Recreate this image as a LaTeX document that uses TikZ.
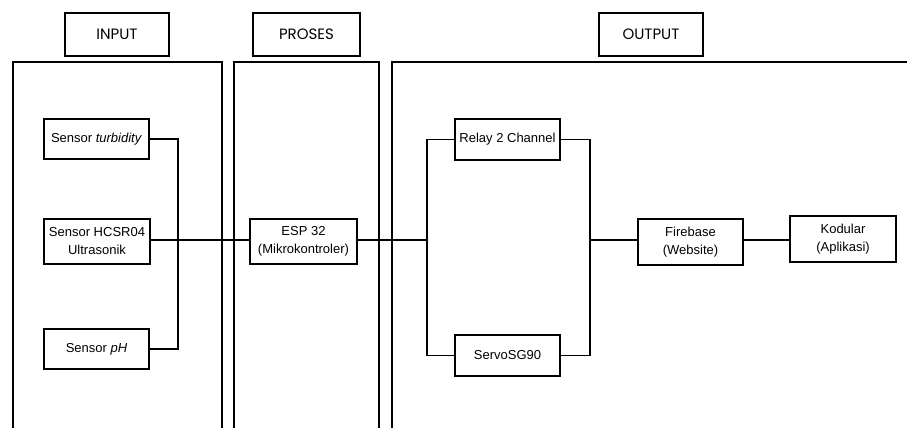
\documentclass[tikz,border=0pt]{standalone}
\usepackage{fontspec}
\setmainfont{Liberation Sans}
\newfontfamily\headfont{Poppins}
\begin{document}
\begin{tikzpicture}[x=1pt,y=-1pt,
  headbox/.style={draw,line width=2pt,minimum height=43pt,inner sep=0pt,font=\headfont\fontsize{15}{18}\selectfont},
  blk/.style={draw,line width=1.4pt,inner sep=0pt,align=center,font=\fontsize{13}{18}\selectfont},
  panel/.style={draw,line width=1.4pt},
  conn/.style={draw,line width=1.4pt}]
\useasboundingbox (0,0) rectangle (907,428);
\begin{scope}
\clip (0,0) rectangle (907,428);
\draw[panel] (13,62) rectangle (222,450);
\draw[panel] (234,62) rectangle (379,450);
\draw[panel] (392,62) rectangle (920,450);
\end{scope}
\node[headbox,minimum width=104pt] (hin) at (117,34.5) {INPUT};
\node[headbox,minimum width=107pt] (hpr) at (306.5,34.5) {PROSES};
\node[headbox,minimum width=104pt] (hout) at (651,34.5) {OUTPUT};

\node[blk,minimum width=105pt,minimum height=40pt] (turb) at (96.5,139) {Sensor \textit{turbidity}};
\node[blk,minimum width=106pt,minimum height=45pt] (hc) at (97,241.5) {Sensor HCSR04\\Ultrasonik};
\node[blk,minimum width=105pt,minimum height=40pt] (ph) at (96.5,349) {Sensor \textit{pH}};
\node[blk,minimum width=107pt,minimum height=45pt] (esp) at (303.5,241.5) {ESP 32\\(Mikrokontroler)};
\node[blk,minimum width=105pt,minimum height=41pt] (relay) at (507.5,139.5) {Relay 2 Channel};
\node[blk,minimum width=105pt,minimum height=41pt] (servo) at (507.5,355.5) {ServoSG90};
\node[blk,minimum width=105pt,minimum height=46pt] (fire) at (690.5,242) {Firebase\\(Website)};
\node[blk,minimum width=106pt,minimum height=46pt] (kod) at (843,239) {Kodular\\(Aplikasi)};

\coordinate (busA) at (178,240);
\coordinate (busB) at (427,240);
\coordinate (busC) at (590,240);

\draw[conn] (turb.east) -| (busA) |- (ph.east);
\draw[conn] (hc.east |- busA) -- (esp.west |- busA);
\draw[conn] (esp.east |- busB) -- (busB);
\draw[conn] (relay.west) -| (busB) |- (servo.west);
\draw[conn] (relay.east) -| (busC) |- (servo.east);
\draw[conn] (busC) -- (fire.west |- busC);
\draw[conn] (fire.east |- busC) -- (kod.west |- busC);
\end{tikzpicture}
\end{document}
